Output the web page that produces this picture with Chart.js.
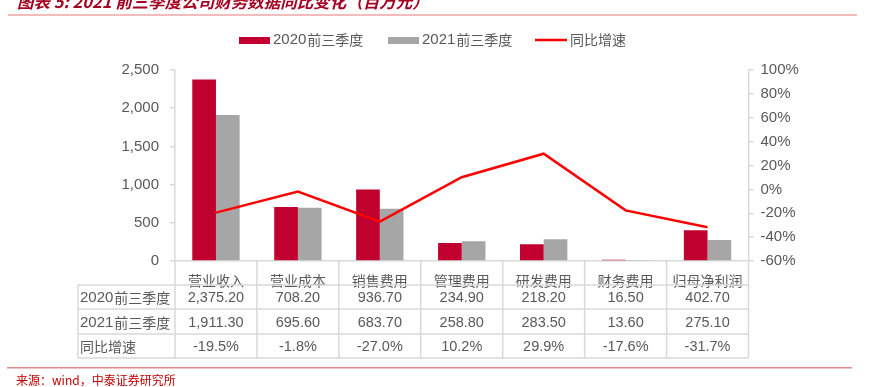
<!DOCTYPE html>
<html>
<head>
<meta charset="utf-8">
<script src="https://cdn.jsdelivr.net/npm/chart.js@4"></script>
<style>
  body { margin: 0; background: #fff; }
  #wrap { width: 872px; height: 387px; position: relative; }
</style>
</head>
<body>
<div id="wrap"><canvas id="chart" width="872" height="387"></canvas></div>
<script>
const categories = ['营业收入', '营业成本', '销售费用', '管理费用', '研发费用', '财务费用', '归母净利润'];
const seriesNames = ['2020前三季度', '2021前三季度', '同比增速'];
const values2020 = [2375.2, 708.2, 936.7, 234.9, 218.2, 16.5, 402.7];
const values2021 = [1911.3, 695.6, 683.7, 258.8, 283.5, 13.6, 275.1];
const growth = [-19.5, -1.8, -27.0, 10.2, 29.9, -17.6, -31.7];

const titleText = '图表 5: 2021 前三季度公司财务数据同比变化（百万元）';
const sourceText = '来源：wind，中泰证券研究所';

const RED = '#c0002f';
const GRAY = '#a6a6a6';
const LINE = '#ff0000';
const TXT = '#595959';
const GRID = '#d9d9d9';
const NUM_FONT = '"Liberation Sans", Arial, sans-serif';
const CJK_FONT = '"Noto Sans CJK SC", sans-serif';

const fmtNum = v => v.toLocaleString('en-US', { minimumFractionDigits: 2, maximumFractionDigits: 2 });

// digits in Arial, the rest in the CJK font, like the original
function mixedText(ctx, str, x, y) {
  const m = str.match(/^(\d*)(.*)$/);
  ctx.font = '15px ' + NUM_FONT;
  ctx.fillText(m[1], x, y);
  const w = m[1] ? ctx.measureText(m[1]).width + 1 : 0;
  ctx.font = '14px ' + CJK_FONT;
  ctx.fillText(m[2], x + w, y);
}

const decor = {
  id: 'decor',
  afterDraw(chart) {
    const ctx = chart.ctx;
    const x = chart.scales.x;
    const area = chart.chartArea;
    const half = (x.getPixelForValue(1) - x.getPixelForValue(0)) / 2;
    ctx.save();

    // title (cropped at top)
    ctx.fillStyle = '#a50021';
    ctx.font = 'italic bold 16.5px ' + CJK_FONT;
    ctx.textBaseline = 'alphabetic';
    ctx.textAlign = 'left';
    ctx.fillText(titleText, 17, 8);
    ctx.fillStyle = '#f2bcbc';
    ctx.fillRect(8, 14, 849, 2);

    // legend
    ctx.textBaseline = 'middle';
    ctx.fillStyle = RED; ctx.fillRect(239, 37, 31, 7);
    ctx.fillStyle = TXT; mixedText(ctx, seriesNames[0], 273, 40);
    ctx.fillStyle = GRAY; ctx.fillRect(388, 37, 31, 7);
    ctx.fillStyle = TXT; mixedText(ctx, seriesNames[1], 422, 40);
    ctx.strokeStyle = LINE; ctx.lineWidth = 2.5;
    ctx.beginPath(); ctx.moveTo(535, 40); ctx.lineTo(567, 40); ctx.stroke();
    ctx.fillStyle = TXT; mixedText(ctx, seriesNames[2], 570, 40);

    // table
    const rowY = [area.bottom, 285, 309, 334, 358];
    const left = 78;
    const right = x.getPixelForValue(categories.length - 1) + half;
    ctx.strokeStyle = GRID; ctx.lineWidth = 1.5;
    ctx.beginPath();
    for (let i = 1; i < rowY.length; i++) {
      ctx.moveTo(left, rowY[i]); ctx.lineTo(right, rowY[i]);
    }
    ctx.moveTo(left, rowY[1]); ctx.lineTo(left, rowY[4]);
    ctx.moveTo(area.left, rowY[0]); ctx.lineTo(area.left, rowY[4]);
    for (let i = 0; i < categories.length; i++) {
      const bx = x.getPixelForValue(i) + half;
      ctx.moveTo(bx, rowY[0]); ctx.lineTo(bx, rowY[4]);
    }
    ctx.stroke();

    const rows = [
      [seriesNames[0], values2020.map(fmtNum)],
      [seriesNames[1], values2021.map(fmtNum)],
      [seriesNames[2], growth.map(v => v.toFixed(1) + '%')]
    ];
    rows.forEach((r, ri) => {
      const cy = (rowY[ri + 1] + rowY[ri + 2]) / 2 + 1;
      ctx.fillStyle = TXT;
      ctx.textAlign = 'left';
      mixedText(ctx, r[0], 80, cy);
      ctx.textAlign = 'center';
      ctx.font = '14.5px ' + NUM_FONT;
      r[1].forEach((t, i) => ctx.fillText(t, x.getPixelForValue(i), cy));
    });

    // source
    ctx.fillStyle = '#e08a8a';
    ctx.fillRect(7, 367, 845, 1.5);
    ctx.fillStyle = '#c00000';
    ctx.font = '12px ' + CJK_FONT;
    ctx.textAlign = 'left';
    ctx.fillText(sourceText, 16, 380);
    ctx.restore();
  }
};

new Chart(document.getElementById('chart').getContext('2d'), {
  data: {
    labels: categories,
    datasets: [
      { type: 'line', label: seriesNames[2], data: growth, yAxisID: 'y1', borderColor: LINE, borderWidth: 2.5, pointRadius: 0, tension: 0, order: 0 },
      { type: 'bar', label: seriesNames[0], data: values2020, yAxisID: 'y', backgroundColor: RED, barPercentage: 1, categoryPercentage: 0.578, order: 1 },
      { type: 'bar', label: seriesNames[1], data: values2021, yAxisID: 'y', backgroundColor: GRAY, barPercentage: 1, categoryPercentage: 0.578, order: 1 }
    ]
  },
  options: {
    responsive: false,
    animation: false,
    layout: { padding: { top: 70, left: 0, right: 0, bottom: 0 } },
    plugins: { legend: { display: false }, tooltip: { enabled: false } },
    scales: {
      x: {
        grid: { display: false },
        border: { color: GRID, width: 1.5 },
        ticks: { color: TXT, font: { size: 14, family: CJK_FONT }, padding: 3, maxRotation: 0, autoSkip: false },
        afterFit: s => { s.height = 126; }
      },
      y: {
        position: 'left',
        min: 0, max: 2500,
        grid: { drawOnChartArea: false, drawTicks: true, tickLength: 5, color: GRID, lineWidth: 1.5 },
        border: { color: GRID, width: 1.5 },
        ticks: { stepSize: 500, color: TXT, padding: 11, font: { size: 15, family: NUM_FONT }, callback: v => v.toLocaleString('en-US') },
        afterFit: s => { s.width = 175; }
      },
      y1: {
        position: 'right',
        min: -60, max: 100,
        grid: { drawOnChartArea: false, drawTicks: true, tickLength: 5, color: GRID, lineWidth: 1.5 },
        border: { color: GRID, width: 1.5 },
        ticks: { stepSize: 20, color: TXT, padding: 7, font: { size: 15, family: NUM_FONT }, callback: v => v + '%' },
        afterFit: s => { s.width = 123.5; }
      }
    }
  },
  plugins: [decor]
});
</script>
</body>
</html>
